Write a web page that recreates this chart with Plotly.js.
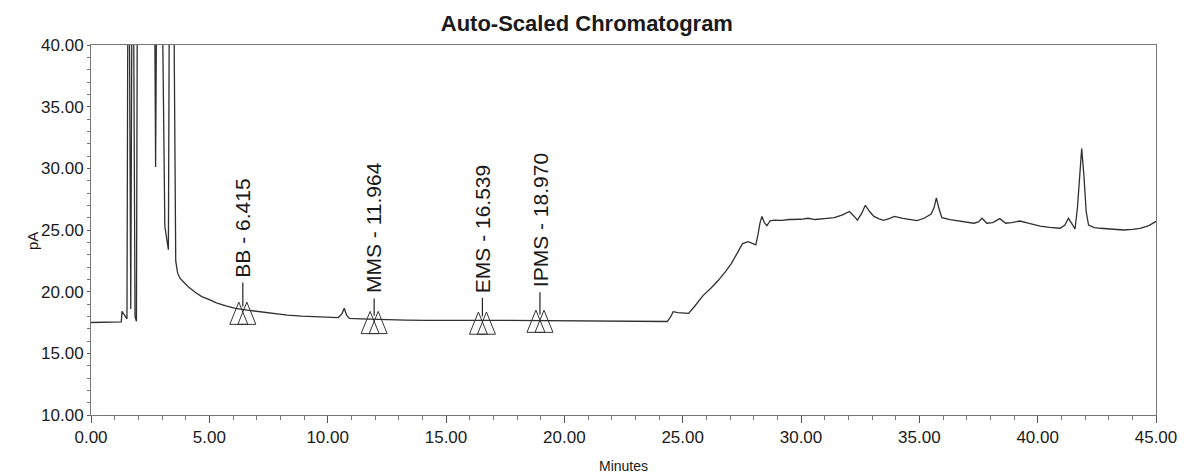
<!DOCTYPE html>
<html>
<head>
<meta charset="utf-8">
<script src="https://cdn.plot.ly/plotly-3.0.1.min.js"></script>
<style>html,body{margin:0;padding:0;background:#fff;}#chart{width:1188px;height:474px;}</style>
</head>
<body>
<div id="chart"></div>
<script>
// Chromatogram trace (minutes, pA)
const timeMin = [0,0.6,1.2,1.28,1.31,1.38,1.45,1.52,1.58,1.68,1.76,1.86,1.92,1.98,2.64,2.73,2.82,2.92,3.12,3.27,3.34,3.44,3.58,3.66,3.76,3.9,4.11,4.4,4.68,5.0,5.3,5.7,6.1,6.6,7.1,7.7,8.3,8.9,9.5,10.0,10.45,10.6,10.7,10.8,10.92,11.4,11.9,12.6,13.3,14.2,15.0,16.0,17.0,18.0,19.0,20.0,21.0,22.0,23.0,24.0,24.35,24.5,24.6,24.8,25.25,25.5,25.87,26.2,26.5,26.8,27.06,27.3,27.53,27.77,27.95,28.09,28.18,28.27,28.35,28.45,28.56,28.7,28.88,29.2,29.5,29.99,30.3,30.6,31.1,31.4,31.73,32.05,32.25,32.38,32.55,32.72,32.9,33.08,33.3,33.5,33.75,33.95,34.3,34.9,35.2,35.5,35.62,35.72,35.82,35.95,36.3,36.8,37.3,37.5,37.65,37.85,38.1,38.4,38.65,38.9,39.25,39.6,40.1,40.5,40.95,41.15,41.3,41.45,41.58,41.68,41.77,41.86,41.95,42.05,42.15,42.4,42.65,43.2,43.63,44.0,44.33,44.7,45.0];
const signalPA = [17.5,17.52,17.5,17.55,18.4,18.2,17.9,17.8,60,18.6,60,18.0,17.6,60,60,30.1,60,60,25.3,23.4,60,60,22.5,21.5,21.1,20.8,20.4,19.95,19.6,19.35,19.1,18.85,18.65,18.5,18.38,18.25,18.1,18.02,17.97,17.93,17.9,18.2,18.65,18.1,17.84,17.8,17.76,17.72,17.7,17.68,17.7,17.67,17.68,17.66,17.67,17.65,17.62,17.6,17.58,17.57,17.58,18.0,18.38,18.3,18.24,18.8,19.7,20.3,20.9,21.6,22.3,23.1,23.9,24.05,23.9,23.8,24.6,25.6,26.1,25.6,25.35,25.75,25.8,25.78,25.85,25.87,25.95,25.85,25.95,26.0,26.2,26.5,26.1,25.8,26.3,27.0,26.5,26.1,25.9,25.78,25.95,26.1,25.95,25.76,25.95,26.3,26.8,27.6,26.8,26.0,25.85,25.7,25.55,25.65,25.95,25.55,25.6,25.92,25.55,25.6,25.73,25.55,25.32,25.22,25.14,25.4,25.95,25.5,25.08,26.8,29.5,31.6,29.5,26.5,25.4,25.2,25.14,25.05,25.0,25.05,25.14,25.35,25.7];

// Identified peaks
const peakNames = ["BB", "MMS", "EMS", "IPMS"];
const peakTimes = [6.415, 11.964, 16.539, 18.970];
const peakLevels = [18.25, 17.5, 17.45, 17.6];   // trace level under the marker
const labelBases = [21.0, 19.7, 19.75, 20.2];    // where the label starts

// tick values
const xTicks = [0, 5, 10, 15, 20, 25, 30, 35, 40, 45];
const yTicks = [10, 15, 20, 25, 30, 35, 40];

const FONT = "'Liberation Sans', Arial, Helvetica, sans-serif";
const INK = "#1a1a1a";

// marker geometry (drawing style constants)
const TRI_HALF_W = 0.38, TRI_OFF = 0.17, TRI_HALF_H = 0.9;

const triX = [], triY = [], stemX = [], stemY = [];
peakTimes.forEach((t, i) => {
  const lvl = peakLevels[i];
  [-TRI_OFF, TRI_OFF].forEach(o => {
    const c = t + o;
    triX.push(c - TRI_HALF_W, c + TRI_HALF_W, c, c - TRI_HALF_W, null);
    triY.push(lvl - TRI_HALF_H, lvl - TRI_HALF_H, lvl + TRI_HALF_H, lvl - TRI_HALF_H, null);
  });
  stemX.push(t, t, null);
  stemY.push(lvl + TRI_HALF_H * 0.6, labelBases[i] - 0.25, null);
});

const traces = [
  {x: timeMin, y: signalPA, type: "scatter", mode: "lines",
   line: {color: "#303030", width: 1.3}, hoverinfo: "x+y", showlegend: false},
  {x: triX, y: triY, type: "scatter", mode: "lines",
   line: {color: "#333", width: 1}, hoverinfo: "skip", showlegend: false},
  {x: stemX, y: stemY, type: "scatter", mode: "lines",
   line: {color: "#222", width: 1.2}, hoverinfo: "skip", showlegend: false}
];

const annotations = peakNames.map((n, i) => ({
  x: peakTimes[i], y: labelBases[i], xref: "x", yref: "y",
  text: n + " - " + peakTimes[i].toFixed(3), textangle: -90,
  xanchor: "center", yanchor: "bottom", showarrow: false,
  font: {family: FONT, size: 21, color: INK}
}));
annotations.push({
  x: -0.0555, y: 0.47, xref: "paper", yref: "paper", text: "pA", textangle: -90,
  showarrow: false, xanchor: "center", yanchor: "middle",
  font: {family: FONT, size: 15, color: INK}
});
annotations.push({
  x: 0.5, y: -0.112, xref: "paper", yref: "paper", text: "Minutes",
  showarrow: false, xanchor: "center", yanchor: "top",
  font: {family: FONT, size: 14, color: INK}
});

const axisCommon = {
  showgrid: false, zeroline: false, showline: true, linecolor: "#777", linewidth: 1,
  mirror: true, ticks: "outside", tickcolor: "#555", tickformat: ".2f",
  tickfont: {family: FONT, size: 17, color: INK}
};

const layout = {
  width: 1188, height: 474,
  margin: {l: 91, r: 32, t: 45, b: 59},
  paper_bgcolor: "#fff", plot_bgcolor: "#fff",
  title: {text: "<b>Auto-Scaled Chromatogram</b>", x: 0.494, xanchor: "center",
          xref: "container", y: 0.9515, yref: "container", yanchor: "middle",
          font: {family: FONT, size: 22, color: INK}},
  xaxis: Object.assign({}, axisCommon, {
    range: [0, 45], tickvals: xTicks, ticklen: 7,
    minor: {dtick: 1, ticks: "outside", ticklen: 4, tickcolor: "#777"}
  }),
  yaxis: Object.assign({}, axisCommon, {
    range: [10, 40], tickvals: yTicks, ticklen: 3,
    minor: {dtick: 1, ticks: "outside", ticklen: 3, tickcolor: "#777"}
  }),
  annotations: annotations,
  showlegend: false
};

Plotly.newPlot("chart", traces, layout, {displayModeBar: false, staticPlot: true});
</script>
</body>
</html>
